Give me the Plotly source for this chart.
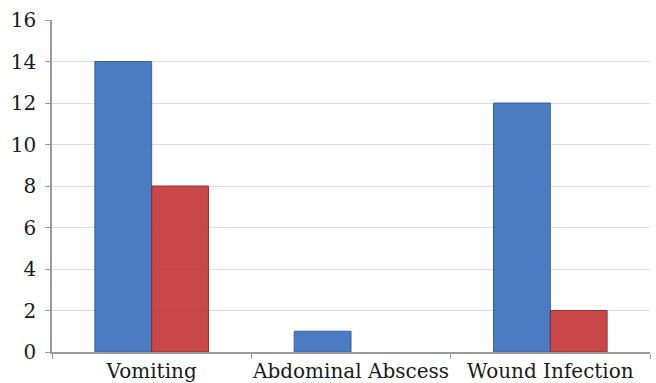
import plotly.graph_objects as go

categories = ["Vomiting", "Abdominal Abscess", "Wound Infection"]
series_a = [14, 1, 12]
series_b = [8, 0, 2]
y_ticks = [0, 2, 4, 6, 8, 10, 12, 14, 16]

serif = "DejaVu Serif"


def outline(values, color):
    # no outline on empty bars so they stay invisible
    return dict(color=color, width=[1 if v > 0 else 0 for v in values])


fig = go.Figure()
fig.add_trace(go.Bar(
    x=categories, y=series_a, name="Series 1",
    marker=dict(color="#3e73bd", line=outline(series_a, "#2a5595")),
    opacity=0.93,
))
fig.add_trace(go.Bar(
    x=categories, y=series_b, name="Series 2",
    marker=dict(color="#c43a3b", line=outline(series_b, "#8f2426")),
    opacity=0.93,
))

fig.update_layout(
    width=656, height=383,
    margin=dict(l=52, r=6, t=20, b=31),
    paper_bgcolor="white", plot_bgcolor="white",
    barmode="group", bargap=0.43, bargroupgap=0,
    showlegend=False,
    font=dict(family=serif, size=20, color="#1a1a1a"),
)
fig.update_xaxes(
    showline=True, linecolor="#9a9a9a", linewidth=1.5,
    ticks="outside", ticklen=5, tickcolor="#9a9a9a", tickson="boundaries",
    showgrid=False, automargin=False, tickangle=0,
    tickfont=dict(family=serif, size=20),
)
fig.update_yaxes(
    range=[0, 16], tickvals=y_ticks,
    showline=True, linecolor="#9a9a9a", linewidth=1.5,
    ticks="outside", ticklen=5, tickcolor="#9a9a9a",
    showgrid=True, gridcolor="#dcdcdc", gridwidth=1,
    zeroline=False, automargin=False, ticklabelstandoff=5,
    tickfont=dict(family=serif, size=20),
)

fig.write_html("out.html")
